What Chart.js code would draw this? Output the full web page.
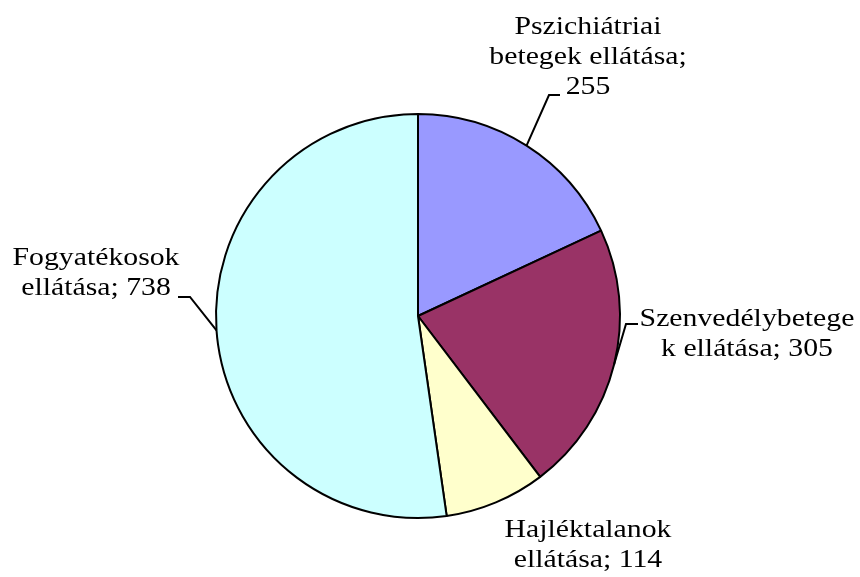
<!DOCTYPE html>
<html>
<head>
<meta charset="utf-8">
<script src="https://cdn.jsdelivr.net/npm/chart.js@4.4.1/dist/chart.umd.min.js"></script>
<style>
  html, body { margin: 0; padding: 0; background: #fff; }
  canvas { display: block; }
</style>
</head>
<body>
<canvas id="pieChart" width="860" height="577"></canvas>
<script>
  // ---------------------------
  // Data
  // ---------------------------
  const categories = [
    "Pszichiátriai betegek ellátása",
    "Szenvedélybetegek ellátása",
    "Hajléktalanok ellátása",
    "Fogyatékosok ellátása"
  ];
  const values = [255, 305, 114, 738];

  // label text lines as they wrap in the picture
  const labelLines = [
    ["Pszichiátriai", "betegek ellátása;", "255"],
    ["Szenvedélybetege", "k ellátása; 305"],
    ["Hajléktalanok", "ellátása; 114"],
    ["Fogyatékosok", "ellátása; 738"]
  ];

  const sliceColors = ["#9999FF", "#993366", "#FFFFCC", "#CCFFFF"];

  // label placement (centre x + first baseline, leader elbow, leader end)
  const labelLayout = [
    { x: 588, y: 34, elbow: [549, 95], end: [560, 95] },
    { x: 747, y: 326, elbow: [626, 324], end: [638, 324] },
    { x: 588, y: 537, elbow: null, end: null },
    { x: 96, y: 265, elbow: [190, 297], end: [178, 297] }
  ];

  const FONT = "25px 'Liberation Serif', 'Times New Roman', serif";
  const LINE_H = 30;
  const STRETCH = 1.19;

  // ---------------------------
  // Labels + leader lines
  // ---------------------------
  const pieLabels = {
    id: "pieLabels",
    afterDraw(chart) {
      const ctx = chart.ctx;
      const meta = chart.getDatasetMeta(0);
      ctx.save();

      meta.data.forEach((arc, i) => {
        const lay = labelLayout[i];
        if (lay.elbow) {
          const mid = (arc.startAngle + arc.endAngle) / 2;
          const r = arc.outerRadius;
          const ax = arc.x + Math.cos(mid) * r;
          const ay = arc.y + Math.sin(mid) * r;
          ctx.beginPath();
          ctx.strokeStyle = "#000";
          ctx.lineWidth = 2;
          ctx.moveTo(ax, ay);
          ctx.lineTo(lay.elbow[0], lay.elbow[1]);
          ctx.lineTo(lay.end[0], lay.end[1]);
          ctx.stroke();
        }

        ctx.fillStyle = "#000";
        ctx.font = FONT;
        ctx.textAlign = "center";
        ctx.textBaseline = "alphabetic";
        labelLines[i].forEach((line, j) => {
          ctx.save();
          ctx.translate(lay.x, lay.y + j * LINE_H);
          ctx.scale(STRETCH, 1);
          ctx.fillText(line, 0, 0);
          ctx.restore();
        });
      });

      ctx.restore();
    }
  };

  new Chart(document.getElementById("pieChart"), {
    type: "pie",
    data: {
      labels: categories,
      datasets: [{
        data: values,
        backgroundColor: sliceColors,
        borderColor: "#000",
        borderWidth: 2
      }]
    },
    options: {
      responsive: false,
      animation: false,
      radius: 202,
      layout: { padding: { left: 0, right: 24, top: 55, bottom: 0 } },
      plugins: {
        legend: { display: false },
        tooltip: { enabled: false }
      }
    },
    plugins: [pieLabels]
  });
</script>
</body>
</html>
